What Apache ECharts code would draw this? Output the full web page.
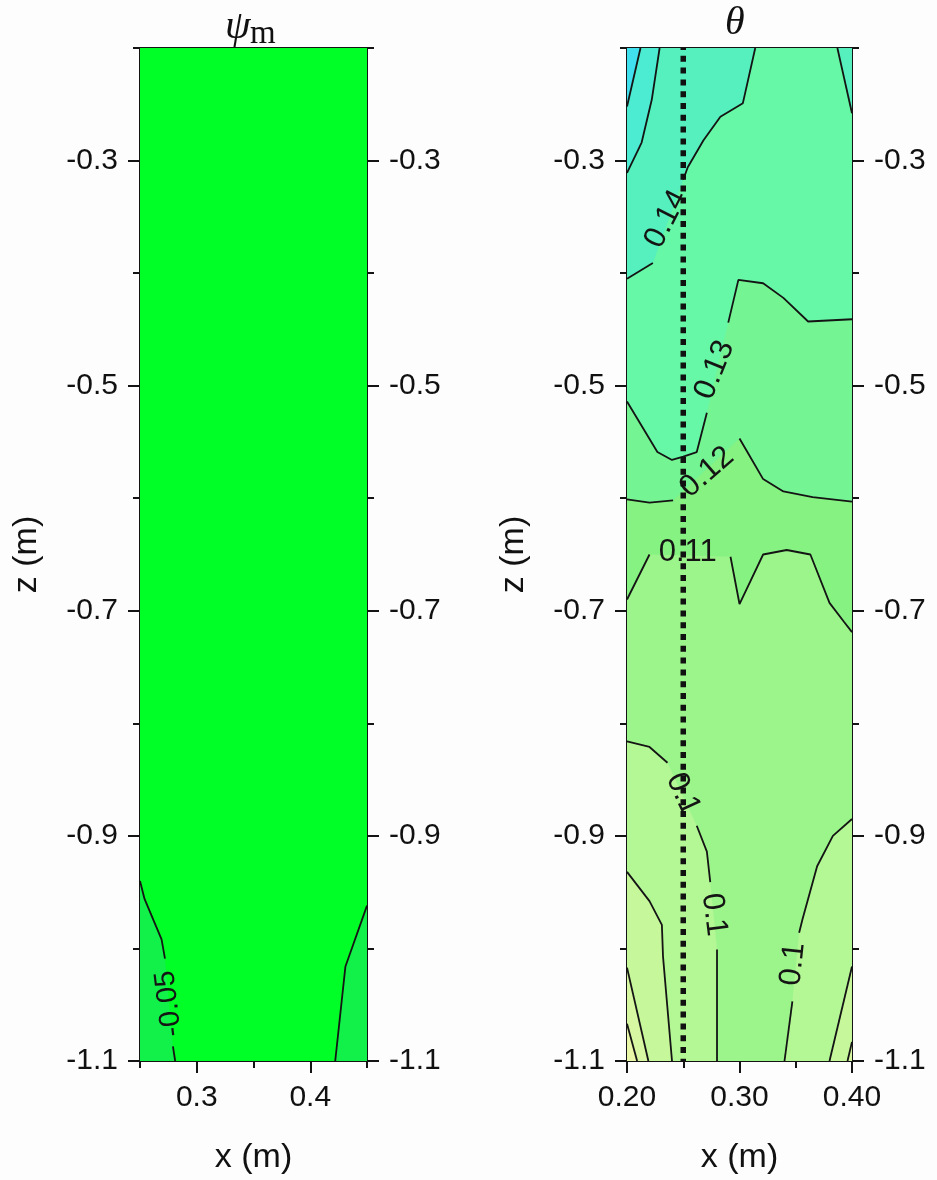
<!DOCTYPE html>
<html>
<head>
<meta charset="utf-8">
<script src="https://cdn.jsdelivr.net/npm/echarts@6/dist/echarts.min.js"></script>
<style>
  html, body { margin: 0; padding: 0; background: #fdfdfd; }
  #chart { width: 937px; height: 1180px; }
</style>
</head>
<body>
<div id="chart"></div>
<script>
// ---- axes (m) ----
const psiX = [0.25, 0.45];
const thetaX = [0.20, 0.40];
const zRange = [-1.1, -0.2];

const psiXMajor = [0.3, 0.4];
const psiXMinor = [0.25, 0.35, 0.45];
const thetaXMajor = [0.20, 0.30, 0.40];
const thetaXMinor = [0.25, 0.35];
const zMajor = [-1.1, -0.9, -0.7, -0.5, -0.3];
const zMinor = [-1.0, -0.8, -0.6, -0.4, -0.2];

// ---- psi_m : the -0.05 isoline near the two lower corners ----
const psiLevel = -0.05;
const psiLeft = [
  [[0.250, -0.940], [0.254, -0.956], [0.269, -0.992], [0.272, -1.009]],
  [[0.279, -1.087], [0.281, -1.100]]
];
const psiRight = [
  [[0.450, -0.962], [0.431, -1.016], [0.422, -1.100]]
];
// label: level, x, z, angle (deg)
const psiLabels = [[psiLevel, 0.2756, -1.049, 97]];

// ---- theta : isolines every 0.01 ----
const thetaLevels = [0.07, 0.08, 0.09, 0.10, 0.11, 0.12, 0.13, 0.14, 0.15, 0.16];

const th016 = [[[0.212, -0.200], [0.200, -0.252]]];
const th015 = [[[0.229, -0.200], [0.222, -0.246], [0.213, -0.284], [0.200, -0.311]]];
const th014L = [
  [[0.314, -0.200], [0.303, -0.249], [0.283, -0.261], [0.268, -0.282], [0.254, -0.306], [0.250, -0.317]],
  [[0.223, -0.391], [0.200, -0.405]]
];
const th014R = [[[0.387, -0.200], [0.400, -0.258]]];
const th013 = [
  [[0.400, -0.441], [0.361, -0.443], [0.339, -0.422], [0.321, -0.409], [0.299, -0.406], [0.290, -0.444]],
  [[0.271, -0.524], [0.262, -0.559], [0.250, -0.563], [0.240, -0.566], [0.227, -0.559], [0.200, -0.514]]
];
const th012 = [
  [[0.200, -0.601], [0.220, -0.604], [0.241, -0.602]],
  [[0.300, -0.547], [0.307, -0.559], [0.321, -0.583], [0.339, -0.594], [0.365, -0.599], [0.400, -0.603]]
];
const th011 = [
  [[0.200, -0.690], [0.220, -0.650]],
  [[0.292, -0.652], [0.300, -0.694], [0.321, -0.650], [0.342, -0.646], [0.363, -0.650],
   [0.380, -0.693], [0.393, -0.710], [0.400, -0.719]]
];
const th010L = [
  [[0.200, -0.816], [0.220, -0.821], [0.236, -0.835]],
  [[0.262, -0.891], [0.271, -0.914], [0.274, -0.941]],
  [[0.280, -1.001], [0.280, -1.100]]
];
const th010R = [
  [[0.400, -0.885], [0.383, -0.900], [0.369, -0.927], [0.356, -0.974], [0.353, -0.986]],
  [[0.347, -1.047], [0.340, -1.100]]
];
const th009L = [[[0.200, -0.932], [0.220, -0.958], [0.231, -0.979], [0.232, -1.007], [0.240, -1.100]]];
const th009R = [[[0.400, -1.016], [0.380, -1.100]]];
const th008L = [[[0.200, -1.017], [0.219, -1.100]]];
const th008R = [[[0.400, -1.083], [0.396, -1.100]]];
const th007L = [[[0.200, -1.067], [0.209, -1.100]]];

// label: level, x, z, angle (deg)
const thetaLabels = [
  [0.14, 0.235, -0.352, 63],
  [0.13, 0.278, -0.486, 68],
  [0.12, 0.271, -0.577, 41],
  [0.11, 0.254, -0.648, 0],
  [0.1, 0.2498, -0.863, -65],
  [0.1, 0.2773, -0.970, -83],
  [0.1, 0.3476, -1.014, 84]
];

// vertical profile at x = 0.25 m
const profileX = 0.25;

// ---- styles ----
const psiColors = ['#00ff26', '#12f14a'];
const thetaColors = ['#e9f7a8', '#d8f7a2', '#c6f79b', '#b4f795', '#9cf58a',
                     '#86f282', '#74f493', '#66f8a6', '#55f0bd', '#4cecd2', '#41e0ee'];
const INK = '#141414';
const SANS = '"Liberation Sans", Arial, sans-serif';
const SERIF = '"Liberation Serif", "Times New Roman", serif';

// ---- region polygons built from isolines and axis extents ----
const flat = pieces => pieces.flat();
const rev = pts => pts.slice().reverse();

function thetaRegions() {
  const [X0, X1] = thetaX, [Z0, Z1] = zRange;
  const TL = [X0, Z1], TR = [X1, Z1], BR = [X1, Z0], BL = [X0, Z0];
  return [
    [[TL, TR, BR, BL]],
    [[TL, TR, BR, ...rev(flat(th007L))]],
    [[TL, TR, ...flat(th008R), ...rev(flat(th008L))]],
    [[TL, TR, ...flat(th009R), ...rev(flat(th009L))]],
    [[TL, TR, ...flat(th010R), ...rev(flat(th010L))]],
    [[TL, TR, ...rev(flat(th011))]],
    [[TL, TR, ...rev(flat(th012))]],
    [[TL, TR, ...flat(th013)]],
    [[TL, ...flat(th014L)], [TR, ...flat(th014R)]],
    [[TL, ...flat(th015)]],
    [[TL, ...flat(th016)]]
  ];
}
function psiRegions() {
  const [X0, X1] = psiX, [Z0, Z1] = zRange;
  return [
    [[[X0, Z1], [X1, Z1], [X1, Z0], [X0, Z0]]],
    [[[X0, Z0], ...flat(psiLeft)], [[X1, Z0], ...flat(psiRight)]]
  ];
}

function fillSeries(regions, colors, xi, yi) {
  return {
    type: 'custom', coordinateSystem: 'cartesian2d', xAxisIndex: xi, yAxisIndex: yi,
    silent: true, clip: true, z: 1, animation: false,
    data: regions.map((r, i) => [i]),
    renderItem: (params, api) => ({
      type: 'group',
      children: regions[params.dataIndex].map(pts => ({
        type: 'polygon',
        shape: { points: pts.map(p => api.coord(p)) },
        style: { fill: colors[params.dataIndex], stroke: null }
      }))
    })
  };
}
function lineSeries(pieces, xi, yi) {
  return pieces.map(pts => ({
    type: 'line', xAxisIndex: xi, yAxisIndex: yi, data: pts,
    symbol: 'none', silent: true, animation: false, z: 3, clip: true,
    lineStyle: { color: INK, width: 1.8 }
  }));
}
function labelSeries(labels, xi, yi, size) {
  return {
    type: 'custom', coordinateSystem: 'cartesian2d', xAxisIndex: xi, yAxisIndex: yi,
    silent: true, z: 4, animation: false,
    data: labels.map(l => [l[1], l[2], l[0], l[3]]),
    renderItem: (params, api) => {
      const p = api.coord([api.value(0), api.value(1)]);
      return {
        type: 'text', x: p[0], y: p[1], rotation: api.value(3) * Math.PI / 180,
        style: {
          text: String(api.value(2)), fill: INK,
          font: size + 'px ' + SANS, align: 'center', verticalAlign: 'middle'
        }
      };
    }
  };
}

// ---- axes ----
const tickText = { fontFamily: SANS, fontSize: 30, color: '#111' };
const nameText = { fontFamily: SANS, fontSize: 34, color: '#111' };
const axisLine = { show: true, onZero: false, lineStyle: { color: INK, width: 2 } };

function xAxesFor(grid, range, major, minor, digits) {
  const base = { gridIndex: grid, type: 'value', min: range[0], max: range[1], splitLine: { show: false } };
  return [
    Object.assign({}, base, {
      position: 'bottom', axisLine,
      axisTick: { show: true, customValues: major, length: 12, lineStyle: { color: INK, width: 2 } },
      axisLabel: Object.assign({ show: true, customValues: major, margin: 22,
        formatter: v => v.toFixed(digits) }, tickText),
      name: 'x (m)', nameLocation: 'middle', nameGap: 80, nameTextStyle: nameText
    }),
    Object.assign({}, base, {
      position: 'bottom', axisLine: { show: false, onZero: false },
      axisTick: { show: true, customValues: minor, length: 7, lineStyle: { color: INK, width: 2 } },
      axisLabel: { show: false }
    }),
    Object.assign({}, base, {
      position: 'top', axisLine, axisTick: { show: false }, axisLabel: { show: false }
    })
  ];
}
function yAxesFor(grid) {
  const base = { gridIndex: grid, type: 'value', min: zRange[0], max: zRange[1], splitLine: { show: false } };
  const major = side => Object.assign({}, base, {
    position: side, axisLine,
    axisTick: { show: true, customValues: zMajor, length: 12, lineStyle: { color: INK, width: 2 } },
    axisLabel: Object.assign({ show: true, customValues: zMajor, margin: 22,
      formatter: v => v.toFixed(1) }, tickText)
  });
  const minor = side => Object.assign({}, base, {
    position: side, axisLine: { show: false, onZero: false },
    axisTick: { show: true, customValues: zMinor, length: 7, lineStyle: { color: INK, width: 2 } },
    axisLabel: { show: false }
  });
  const left = major('left');
  Object.assign(left, { name: 'z (m)', nameLocation: 'middle', nameRotate: 90, nameGap: 96, nameTextStyle: nameText });
  return [left, minor('left'), major('right'), minor('right')];
}

// axis indices: psi panel x 0..2, y 0..3 ; theta panel x 3..5, y 4..7
const series = [].concat(
  fillSeries(psiRegions(), psiColors, 0, 0),
  lineSeries(psiLeft, 0, 0),
  lineSeries(psiRight, 0, 0),
  labelSeries(psiLabels, 0, 0, 29),

  fillSeries(thetaRegions(), thetaColors, 3, 4),
  [th016, th015, th014L, th014R, th013, th012, th011, th010L, th010R, th009L, th009R, th008L, th008R, th007L]
    .map(c => lineSeries(c, 3, 4)).flat(),
  labelSeries(thetaLabels, 3, 4, 31),
  {
    type: 'line', xAxisIndex: 3, yAxisIndex: 4, symbol: 'none', silent: true, animation: false, z: 5,
    data: [[profileX, zRange[1]], [profileX, zRange[0]]],
    lineStyle: { color: '#111', width: 5.5, type: [6, 5.8], cap: 'butt', dashOffset: 4 }
  }
);

const chart = echarts.init(document.getElementById('chart'), null, { renderer: 'canvas' });
chart.setOption({
  backgroundColor: '#fdfdfd',
  animation: false,
  title: [
    { text: 'ψ', left: 220, top: 2, textStyle: { fontFamily: SERIF, fontStyle: 'italic', fontWeight: 'normal', fontSize: 41, color: '#111' } },
    { text: 'm', left: 245, top: 13, textStyle: { fontFamily: SERIF, fontWeight: 'normal', fontSize: 33, color: '#111' } },
    { text: 'θ', left: 720, top: -2, textStyle: { fontFamily: SERIF, fontStyle: 'italic', fontWeight: 'normal', fontSize: 40, color: '#111' } }
  ],
  grid: [
    { left: 140, top: 48, width: 227, height: 1014 },
    { left: 627, top: 48, width: 225, height: 1014 }
  ],
  xAxis: [].concat(
    xAxesFor(0, psiX, psiXMajor, psiXMinor, 1),
    xAxesFor(1, thetaX, thetaXMajor, thetaXMinor, 2)
  ),
  yAxis: [].concat(yAxesFor(0), yAxesFor(1)),
  series
});
</script>
</body>
</html>
